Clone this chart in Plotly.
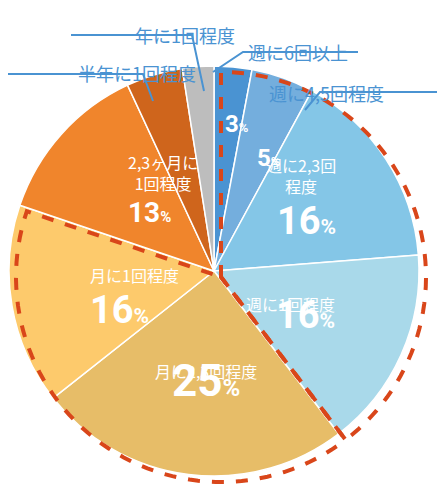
import math
import plotly.graph_objects as go

labels = ["週に6回以上", "週に4,5回程度", "週に2,3回程度", "週に1回程度",
          "月に2,3回程度", "月に1回程度", "2,3ヶ月に1回程度", "半年に1回程度", "年に1回程度"]
values = [3, 5, 16, 16, 25, 16, 13, 4.5, 2.5]
colors = ["#4a93d2", "#74aedd", "#84c6e7", "#a9d9ea", "#e7bd68",
          "#fdca6c", "#f0852c", "#cf651c", "#bdbdbd"]
inner_text = ["", "", "週に2,3回<br>程度", "週に1回程度", "月に2,3回程度", "月に1回程度", "2,3ヶ月に<br>1回程度", "", ""]
pct_text = ["3", "5", "16", "16", "25", "16", "13", "", ""]
label_r = [0.83, 0.7, 0.68, 0.62, 0.6, 0.66, 0.62, 0, 0]
big_size = [24, 24, 38, 38, 44, 38, 28, 0, 0]

W, H = 445, 487
CX, CY, R = 213, 269, 205
DX, DY = 7, 6  # plotly places the pie slightly off the domain centre

fig = go.Figure(go.Pie(
    labels=labels, values=values, sort=False, direction="clockwise", rotation=0,
    marker=dict(colors=colors, line=dict(color="white", width=1.5)),
    textinfo="none", hoverinfo="label+percent", showlegend=False,
    domain=dict(x=[(CX - R - DX) / W, (CX + R - DX) / W],
                y=[(H - CY - R + DY) / H, (H - CY + R + DY) / H]),
))


def pt(frac, r):
    a = 2 * math.pi * frac
    return (CX + r * math.sin(a)) / W, 1 - (CY - r * math.cos(a)) / H


total = sum(values)
cum = 0
annotations = []
for i, v in enumerate(values):
    mid = (cum + v / 2) / total
    cum += v
    if not pct_text[i]:
        continue
    x, y = pt(mid, R * label_r[i])
    n_lines = inner_text[i].count("<br>") + 1 if inner_text[i] else 0
    name_h = n_lines * 20
    pct_y = y - (name_h / 2) / H
    if inner_text[i]:
        annotations.append(dict(x=x, y=pct_y + big_size[i] * 0.55 / H, xref="paper", yref="paper",
                                yanchor="bottom", text=inner_text[i], showarrow=False,
                                font=dict(color="white", size=16, family="Noto Sans CJK JP")))
    txt = f"<b>{pct_text[i]}<span style='font-size:{big_size[i]*0.55:.0f}px'>%</span></b>"
    annotations.append(dict(x=x, y=pct_y, xref="paper", yref="paper", text=txt, showarrow=False,
                            font=dict(color="white", size=big_size[i], family="Roboto")))


def group_path(f0, f1):
    cx, cy = CX / W, 1 - CY / H
    pts = [pt(f0 + (f1 - f0) * k / 60, R) for k in range(61)]
    p = f"M {cx} {cy} L {pts[0][0]} {pts[0][1]} "
    p += " ".join(f"L {x} {y}" for x, y in pts[1:])
    return p + " Z"


week_end = sum(values[:4]) / total
month_end = sum(values[:6]) / total
shapes = [dict(type="path", xref="paper", yref="paper", path=group_path(a, b),
               line=dict(color="#d9461a", width=4, dash="dash"))
          for a, b in [(0, week_end), (week_end, month_end)]]

blue = "#4a93d2"
ext = [("週に6回以上", 290, 29, [(205, 64), (235, 44), (350, 44)]),
       ("週に4,5回程度", 378, 70, [(297, 102), (312, 84), (445, 84)]),
       ("半年に1回程度", 68, 50, [(145, 93), (135, 66), (0, 66)]),
       ("年に1回程度", 125, 12, [(196, 83), (184, 27), (63, 27)])]
for t, x, y, line in ext:
    annotations.append(dict(x=x / W, y=1 - y / H, xref="paper", yref="paper", text=t, showarrow=False,
                            font=dict(color=blue, size=18, family="Noto Sans CJK JP")))
    path = "M " + " L ".join(f"{px / W} {1 - py / H}" for px, py in line)
    shapes.append(dict(type="path", xref="paper", yref="paper", path=path,
                       line=dict(color=blue, width=2)))

fig.update_layout(width=W, height=H, margin=dict(l=0, r=0, t=0, b=0),
                  paper_bgcolor="white", annotations=annotations, shapes=shapes)
fig.write_html("out.html")
